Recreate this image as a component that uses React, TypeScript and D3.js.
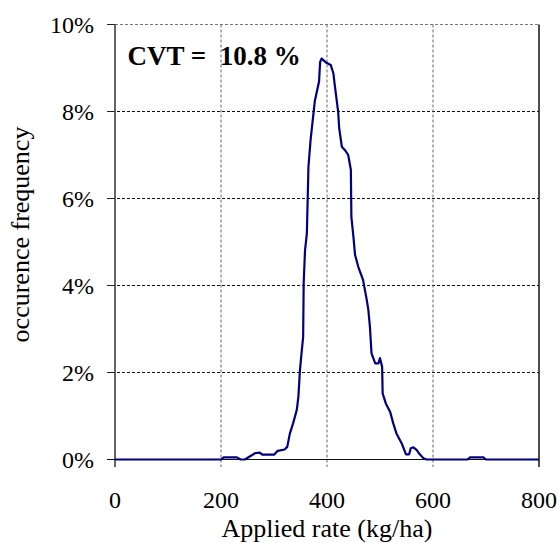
import React from 'react';
import * as d3 from 'd3';

// applied rate (kg/ha) and occurrence frequency (%)
const rates = [
  0, 200, 205, 230, 237, 245, 265, 273, 278, 300,
  307, 320, 325, 330, 336, 343, 346, 349, 352, 355,
  356, 358.5, 362, 365, 369, 377, 385, 387, 390, 393,
  399, 407, 412, 415, 421, 423, 428, 434, 440, 445,
  446, 450, 453, 459, 468, 475, 478, 481, 484, 491,
  497, 500, 504, 505, 511, 519, 525, 531, 541, 549,
  555, 558, 563, 569, 575, 582, 588, 665, 670, 695,
  700, 800,
];
const frequency = [
  0, 0, 0.05, 0.05, 0, 0, 0.15, 0.16, 0.11, 0.11,
  0.2, 0.23, 0.29, 0.6, 0.83, 1.14, 1.44, 2.06, 2.45, 2.82,
  4.06, 4.8, 5.2, 6.73, 7.34, 8.24, 8.69, 9.14, 9.22, 9.18,
  9.12, 9.07, 8.88, 8.57, 8.0, 7.62, 7.19, 7.11, 7.0, 6.66,
  5.58, 5.1, 4.7, 4.43, 4.13, 3.67, 3.44, 3.05, 2.44, 2.21,
  2.21, 2.33, 2.13, 1.52, 1.29, 1.1, 0.83, 0.6, 0.37, 0.12,
  0.12, 0.26, 0.28, 0.22, 0.12, 0.03, 0, 0, 0.05, 0.05,
  0, 0,
];
const xTicks = [0, 200, 400, 600, 800];
const yTicks = [0, 2, 4, 6, 8, 10];
const cvtLabel = 'CVT =  10.8 %';

const font = "'Liberation Serif', monospace";

export default function App() {
  const width = 559;
  const height = 543;

  const x = d3.scaleLinear().domain([0, 800]).range([115, 539]);
  const y = d3.scaleLinear().domain([0, 10]).range([459.5, 24.5]);

  const pts: [number, number][] = rates.map((r, i) => [r, frequency[i]]);
  const line = d3
    .line<[number, number]>()
    .x((d) => x(d[0]))
    .y((d) => y(d[1]));

  const bottom = y(0);
  const tickEnd = bottom + 7.5;
  const txt = { fontFamily: font };

  return (
    <svg width={width} height={height} style={{ position: 'absolute', left: 0, top: 0, background: '#fff' }}>
      {/* horizontal grid */}
      {yTicks.filter((t) => t > 0).map((t) => (
        <line
          key={'hg' + t}
          x1={t === 10 ? x(0) : x(0) - 8}
          x2={x(800)}
          y1={y(t)}
          y2={y(t)}
          stroke={t === 10 ? '#777' : '#111'}
          strokeWidth={1}
          strokeDasharray="3,2"
        />
      ))}
      {/* vertical grid */}
      {xTicks.filter((t) => t > 0 && t < 800).map((t) => (
        <line
          key={'vg' + t}
          x1={x(t)}
          x2={x(t)}
          y1={y(10)}
          y2={tickEnd}
          stroke="#666"
          strokeWidth={1}
          strokeDasharray="3,2"
        />
      ))}
      {/* y ticks */}
      {yTicks.map((t) => (
        <line key={'yt' + t} x1={x(0) - 8} x2={x(0)} y1={y(t)} y2={y(t)} stroke="#222" strokeWidth={1} />
      ))}
      {/* axes */}
      <line x1={x(0)} x2={x(0)} y1={y(10)} y2={tickEnd} stroke="#333" strokeWidth={1.5} />
      <line x1={x(800)} x2={x(800)} y1={y(10)} y2={tickEnd} stroke="#111" strokeWidth={1.5} />
      <line x1={x(0) - 8} x2={x(800)} y1={bottom} y2={bottom} stroke="#111" strokeWidth={1.2} />

      <path d={line(pts) || ''} fill="none" stroke="#000080" strokeWidth={2.2} strokeLinejoin="round" />

      {/* tick labels */}
      {yTicks.map((t) => (
        <text key={'yl' + t} x={94} y={y(t) + 8.5} textAnchor="end" fontSize={24} fill="#000" style={txt}>
          {t + '%'}
        </text>
      ))}
      {xTicks.map((t) => (
        <text key={'xl' + t} x={x(t)} y={508} textAnchor="middle" fontSize={24} fill="#000" style={txt}>
          {t}
        </text>
      ))}

      <text x={x(400)} y={537} textAnchor="middle" fontSize={26} fill="#000" style={txt}>
        Applied rate (kg/ha)
      </text>
      <text
        transform={`translate(29, 234.5) rotate(-90)`}
        textAnchor="middle"
        fontSize={26}
        fill="#000"
        style={txt}
      >
        occurence frequency
      </text>

      <text x={127.5} y={65} fontSize={27} fontWeight="bold" fill="#000" style={{ ...txt, whiteSpace: 'pre' }}>
        {cvtLabel}
      </text>
    </svg>
  );
}
